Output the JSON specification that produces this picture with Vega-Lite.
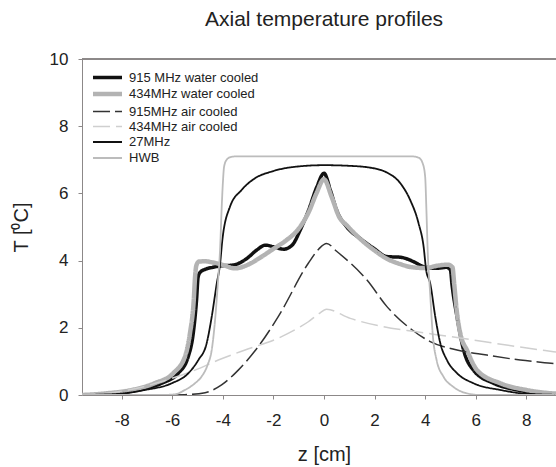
{
  "$schema": "https://vega.github.io/schema/vega-lite/v6.json",
  "autosize": {"type": "none"},
  "padding": {"left": 82, "top": 59, "right": 0, "bottom": 72},
  "width": 484,
  "height": 336,
  "background": "white",
  "config": {
    "view": {"stroke": null},
    "font": "Liberation Sans"
  },
  "title": {
    "text": "Axial temperature profiles",
    "font": "Liberation Sans",
    "fontSize": 21,
    "fontWeight": "normal",
    "color": "#222222",
    "anchor": "middle",
    "offset": 20
  },
  "data": {
    "values": [
      {"s": "915 MHz water cooled", "z": -9.57, "T": 0.0},
      {"s": "915 MHz water cooled", "z": -8.5, "T": 0.03},
      {"s": "915 MHz water cooled", "z": -7.34, "T": 0.15},
      {"s": "915 MHz water cooled", "z": -6.42, "T": 0.35},
      {"s": "915 MHz water cooled", "z": -5.76, "T": 0.65},
      {"s": "915 MHz water cooled", "z": -5.37, "T": 1.14},
      {"s": "915 MHz water cooled", "z": -5.17, "T": 1.84},
      {"s": "915 MHz water cooled", "z": -5.04, "T": 2.83},
      {"s": "915 MHz water cooled", "z": -4.98, "T": 3.5},
      {"s": "915 MHz water cooled", "z": -4.9, "T": 3.65},
      {"s": "915 MHz water cooled", "z": -4.7, "T": 3.74},
      {"s": "915 MHz water cooled", "z": -4.4, "T": 3.8},
      {"s": "915 MHz water cooled", "z": -4.1, "T": 3.84},
      {"s": "915 MHz water cooled", "z": -3.57, "T": 3.87},
      {"s": "915 MHz water cooled", "z": -3.04, "T": 4.07},
      {"s": "915 MHz water cooled", "z": -2.65, "T": 4.32},
      {"s": "915 MHz water cooled", "z": -2.32, "T": 4.46},
      {"s": "915 MHz water cooled", "z": -1.99, "T": 4.41},
      {"s": "915 MHz water cooled", "z": -1.6, "T": 4.34},
      {"s": "915 MHz water cooled", "z": -1.26, "T": 4.46},
      {"s": "915 MHz water cooled", "z": -0.94, "T": 4.91},
      {"s": "915 MHz water cooled", "z": -0.61, "T": 5.5},
      {"s": "915 MHz water cooled", "z": -0.28, "T": 6.2},
      {"s": "915 MHz water cooled", "z": 0.0, "T": 6.6},
      {"s": "915 MHz water cooled", "z": 0.25, "T": 6.1},
      {"s": "915 MHz water cooled", "z": 0.5, "T": 5.5},
      {"s": "915 MHz water cooled", "z": 0.9, "T": 5.0},
      {"s": "915 MHz water cooled", "z": 1.43, "T": 4.66},
      {"s": "915 MHz water cooled", "z": 1.96, "T": 4.37},
      {"s": "915 MHz water cooled", "z": 2.49, "T": 4.12},
      {"s": "915 MHz water cooled", "z": 3.02, "T": 4.1},
      {"s": "915 MHz water cooled", "z": 3.54, "T": 3.97},
      {"s": "915 MHz water cooled", "z": 3.94, "T": 3.82},
      {"s": "915 MHz water cooled", "z": 4.47, "T": 3.77},
      {"s": "915 MHz water cooled", "z": 4.85, "T": 3.8},
      {"s": "915 MHz water cooled", "z": 5.0, "T": 3.72},
      {"s": "915 MHz water cooled", "z": 5.06, "T": 3.3},
      {"s": "915 MHz water cooled", "z": 5.26, "T": 2.33},
      {"s": "915 MHz water cooled", "z": 5.52, "T": 1.34},
      {"s": "915 MHz water cooled", "z": 5.91, "T": 0.74},
      {"s": "915 MHz water cooled", "z": 6.7, "T": 0.35},
      {"s": "915 MHz water cooled", "z": 7.63, "T": 0.15},
      {"s": "915 MHz water cooled", "z": 8.5, "T": 0.05},
      {"s": "915 MHz water cooled", "z": 9.57, "T": 0.01},

      {"s": "434MHz water cooled", "z": -9.57, "T": 0.0},
      {"s": "434MHz water cooled", "z": -8.6, "T": 0.05},
      {"s": "434MHz water cooled", "z": -7.6, "T": 0.15},
      {"s": "434MHz water cooled", "z": -6.7, "T": 0.35},
      {"s": "434MHz water cooled", "z": -5.96, "T": 0.65},
      {"s": "434MHz water cooled", "z": -5.5, "T": 1.14},
      {"s": "434MHz water cooled", "z": -5.3, "T": 1.84},
      {"s": "434MHz water cooled", "z": -5.15, "T": 2.83},
      {"s": "434MHz water cooled", "z": -5.1, "T": 3.5},
      {"s": "434MHz water cooled", "z": -5.05, "T": 3.85},
      {"s": "434MHz water cooled", "z": -4.95, "T": 3.97},
      {"s": "434MHz water cooled", "z": -4.7, "T": 3.98},
      {"s": "434MHz water cooled", "z": -4.44, "T": 3.95},
      {"s": "434MHz water cooled", "z": -4.04, "T": 3.88},
      {"s": "434MHz water cooled", "z": -3.52, "T": 3.77},
      {"s": "434MHz water cooled", "z": -3.0, "T": 3.88},
      {"s": "434MHz water cooled", "z": -2.5, "T": 4.1},
      {"s": "434MHz water cooled", "z": -2.0, "T": 4.35},
      {"s": "434MHz water cooled", "z": -1.5, "T": 4.6},
      {"s": "434MHz water cooled", "z": -1.0, "T": 4.95},
      {"s": "434MHz water cooled", "z": -0.6, "T": 5.45},
      {"s": "434MHz water cooled", "z": -0.3, "T": 6.0},
      {"s": "434MHz water cooled", "z": 0.0, "T": 6.42},
      {"s": "434MHz water cooled", "z": 0.3, "T": 5.9},
      {"s": "434MHz water cooled", "z": 0.6, "T": 5.3},
      {"s": "434MHz water cooled", "z": 0.9, "T": 5.05},
      {"s": "434MHz water cooled", "z": 1.5, "T": 4.6},
      {"s": "434MHz water cooled", "z": 2.0, "T": 4.3},
      {"s": "434MHz water cooled", "z": 2.5, "T": 4.05},
      {"s": "434MHz water cooled", "z": 3.0, "T": 3.9},
      {"s": "434MHz water cooled", "z": 3.5, "T": 3.8},
      {"s": "434MHz water cooled", "z": 4.0, "T": 3.78},
      {"s": "434MHz water cooled", "z": 4.5, "T": 3.85},
      {"s": "434MHz water cooled", "z": 4.9, "T": 3.88},
      {"s": "434MHz water cooled", "z": 5.08, "T": 3.8},
      {"s": "434MHz water cooled", "z": 5.15, "T": 3.3},
      {"s": "434MHz water cooled", "z": 5.25, "T": 2.5},
      {"s": "434MHz water cooled", "z": 5.4, "T": 1.8},
      {"s": "434MHz water cooled", "z": 5.65, "T": 1.34},
      {"s": "434MHz water cooled", "z": 6.05, "T": 0.74},
      {"s": "434MHz water cooled", "z": 6.97, "T": 0.35},
      {"s": "434MHz water cooled", "z": 8.0, "T": 0.15},
      {"s": "434MHz water cooled", "z": 9.0, "T": 0.05},
      {"s": "434MHz water cooled", "z": 9.57, "T": 0.03},

      {"s": "915MHz air cooled", "z": -9.57, "T": 0.0},
      {"s": "915MHz air cooled", "z": -6.5, "T": 0.0},
      {"s": "915MHz air cooled", "z": -5.5, "T": 0.01},
      {"s": "915MHz air cooled", "z": -4.7, "T": 0.07},
      {"s": "915MHz air cooled", "z": -4.05, "T": 0.3},
      {"s": "915MHz air cooled", "z": -3.39, "T": 0.74},
      {"s": "915MHz air cooled", "z": -2.6, "T": 1.44},
      {"s": "915MHz air cooled", "z": -1.81, "T": 2.33},
      {"s": "915MHz air cooled", "z": -0.62, "T": 3.92},
      {"s": "915MHz air cooled", "z": -0.2, "T": 4.35},
      {"s": "915MHz air cooled", "z": 0.1, "T": 4.51},
      {"s": "915MHz air cooled", "z": 0.51, "T": 4.27},
      {"s": "915MHz air cooled", "z": 1.7, "T": 3.42},
      {"s": "915MHz air cooled", "z": 2.49, "T": 2.63},
      {"s": "915MHz air cooled", "z": 3.41, "T": 1.98},
      {"s": "915MHz air cooled", "z": 4.2, "T": 1.59},
      {"s": "915MHz air cooled", "z": 5.26, "T": 1.34},
      {"s": "915MHz air cooled", "z": 6.44, "T": 1.19},
      {"s": "915MHz air cooled", "z": 7.76, "T": 1.04},
      {"s": "915MHz air cooled", "z": 9.08, "T": 0.94},
      {"s": "915MHz air cooled", "z": 9.57, "T": 0.9},

      {"s": "434MHz air cooled", "z": -9.57, "T": 0.0},
      {"s": "434MHz air cooled", "z": -9.0, "T": 0.02},
      {"s": "434MHz air cooled", "z": -7.73, "T": 0.15},
      {"s": "434MHz air cooled", "z": -6.42, "T": 0.4},
      {"s": "434MHz air cooled", "z": -5.1, "T": 0.74},
      {"s": "434MHz air cooled", "z": -4.18, "T": 1.04},
      {"s": "434MHz air cooled", "z": -3.12, "T": 1.34},
      {"s": "434MHz air cooled", "z": -1.81, "T": 1.69},
      {"s": "434MHz air cooled", "z": -0.94, "T": 2.03},
      {"s": "434MHz air cooled", "z": -0.62, "T": 2.18},
      {"s": "434MHz air cooled", "z": -0.2, "T": 2.42},
      {"s": "434MHz air cooled", "z": 0.1, "T": 2.55},
      {"s": "434MHz air cooled", "z": 1.04, "T": 2.28},
      {"s": "434MHz air cooled", "z": 2.36, "T": 2.03},
      {"s": "434MHz air cooled", "z": 3.67, "T": 1.88},
      {"s": "434MHz air cooled", "z": 4.99, "T": 1.74},
      {"s": "434MHz air cooled", "z": 6.3, "T": 1.59},
      {"s": "434MHz air cooled", "z": 7.63, "T": 1.44},
      {"s": "434MHz air cooled", "z": 9.08, "T": 1.29},
      {"s": "434MHz air cooled", "z": 9.57, "T": 1.24},

      {"s": "27MHz", "z": -9.57, "T": 0.0},
      {"s": "27MHz", "z": -8.2, "T": 0.03},
      {"s": "27MHz", "z": -7.08, "T": 0.15},
      {"s": "27MHz", "z": -6.02, "T": 0.35},
      {"s": "27MHz", "z": -5.36, "T": 0.65},
      {"s": "27MHz", "z": -4.97, "T": 1.04},
      {"s": "27MHz", "z": -4.64, "T": 1.54},
      {"s": "27MHz", "z": -4.44, "T": 2.33},
      {"s": "27MHz", "z": -4.24, "T": 3.32},
      {"s": "27MHz", "z": -4.11, "T": 3.9},
      {"s": "27MHz", "z": -4.02, "T": 4.61},
      {"s": "27MHz", "z": -3.72, "T": 5.6},
      {"s": "27MHz", "z": -3.26, "T": 6.1},
      {"s": "27MHz", "z": -2.73, "T": 6.45},
      {"s": "27MHz", "z": -2.07, "T": 6.65},
      {"s": "27MHz", "z": -1.28, "T": 6.78},
      {"s": "27MHz", "z": 0.0, "T": 6.84},
      {"s": "27MHz", "z": 1.0, "T": 6.82},
      {"s": "27MHz", "z": 1.7, "T": 6.78},
      {"s": "27MHz", "z": 2.49, "T": 6.62},
      {"s": "27MHz", "z": 3.02, "T": 6.3},
      {"s": "27MHz", "z": 3.41, "T": 5.8},
      {"s": "27MHz", "z": 3.74, "T": 5.11},
      {"s": "27MHz", "z": 3.94, "T": 4.41},
      {"s": "27MHz", "z": 4.04, "T": 3.72},
      {"s": "27MHz", "z": 4.2, "T": 3.32},
      {"s": "27MHz", "z": 4.4, "T": 2.33},
      {"s": "27MHz", "z": 4.6, "T": 1.54},
      {"s": "27MHz", "z": 4.86, "T": 1.04},
      {"s": "27MHz", "z": 5.26, "T": 0.65},
      {"s": "27MHz", "z": 5.91, "T": 0.35},
      {"s": "27MHz", "z": 6.97, "T": 0.15},
      {"s": "27MHz", "z": 8.1, "T": 0.03},
      {"s": "27MHz", "z": 9.57, "T": 0.0},

      {"s": "HWB", "z": -9.57, "T": 0.0},
      {"s": "HWB", "z": -6.5, "T": 0.0},
      {"s": "HWB", "z": -5.9, "T": 0.02},
      {"s": "HWB", "z": -5.5, "T": 0.15},
      {"s": "HWB", "z": -5.1, "T": 0.35},
      {"s": "HWB", "z": -4.84, "T": 0.55},
      {"s": "HWB", "z": -4.6, "T": 0.9},
      {"s": "HWB", "z": -4.44, "T": 1.34},
      {"s": "HWB", "z": -4.3, "T": 2.3},
      {"s": "HWB", "z": -4.2, "T": 3.3},
      {"s": "HWB", "z": -4.1, "T": 4.5},
      {"s": "HWB", "z": -4.05, "T": 5.5},
      {"s": "HWB", "z": -4.0, "T": 6.3},
      {"s": "HWB", "z": -3.95, "T": 6.8},
      {"s": "HWB", "z": -3.85, "T": 7.0},
      {"s": "HWB", "z": -3.7, "T": 7.08},
      {"s": "HWB", "z": -3.5, "T": 7.1},
      {"s": "HWB", "z": 3.5, "T": 7.1},
      {"s": "HWB", "z": 3.75, "T": 7.06},
      {"s": "HWB", "z": 3.9, "T": 6.9},
      {"s": "HWB", "z": 4.0, "T": 6.5},
      {"s": "HWB", "z": 4.05, "T": 5.5},
      {"s": "HWB", "z": 4.1, "T": 4.3},
      {"s": "HWB", "z": 4.2, "T": 3.0},
      {"s": "HWB", "z": 4.3, "T": 1.8},
      {"s": "HWB", "z": 4.45, "T": 1.05},
      {"s": "HWB", "z": 4.73, "T": 0.54},
      {"s": "HWB", "z": 5.1, "T": 0.25},
      {"s": "HWB", "z": 5.65, "T": 0.05},
      {"s": "HWB", "z": 6.2, "T": 0.0},
      {"s": "HWB", "z": 9.57, "T": 0.0}
    ]
  },
  "layer": [
    {
      "mark": {"type": "rule", "color": "#8c8888", "strokeWidth": 1},
      "encoding": {"y": {"datum": 10}}
    },
    {
      "mark": {"type": "line", "interpolate": "monotone", "clip": true},
      "encoding": {
        "x": {
          "field": "z", "type": "quantitative",
          "scale": {"domain": [-9.57, 9.57], "nice": false, "zero": false},
          "axis": {
            "title": "z [cm]",
            "values": [-8, -6, -4, -2, 0, 2, 4, 6, 8],
            "labelExpr": "replace(datum.label, '−', '-')",
            "grid": false,
            "domainColor": "#8c8888",
            "tickColor": "#8c8888",
            "tickSize": 4,
            "labelFont": "Liberation Sans",
            "labelFontSize": 17,
            "labelColor": "#222222",
            "labelPadding": 13,
            "titleFont": "Liberation Sans",
            "titleFontSize": 20,
            "titleFontWeight": "normal",
            "titleColor": "#222222",
            "titlePadding": 16
          }
        },
        "y": {
          "field": "T", "type": "quantitative",
          "scale": {"domain": [0, 10], "nice": false},
          "axis": {
            "title": "T [⁰C]",
            "values": [0, 2, 4, 6, 8, 10],
            "grid": false,
            "domainColor": "#8c8888",
            "tickColor": "#8c8888",
            "tickSize": 4,
            "labelFont": "Liberation Sans",
            "labelFontSize": 17,
            "labelColor": "#222222",
            "labelPadding": 10,
            "titleFont": "Liberation Sans",
            "titleFontSize": 20,
            "titleFontWeight": "normal",
            "titleColor": "#222222",
            "titlePadding": 18
          }
        },
        "color": {
          "field": "s", "type": "nominal",
          "scale": {
            "domain": ["915 MHz water cooled", "434MHz water cooled", "915MHz air cooled", "434MHz air cooled", "27MHz", "HWB"],
            "range": ["#111111", "#b3b3b3", "#333333", "#cfcfcf", "#111111", "#bcbcbc"]
          },
          "legend": {
            "title": null,
            "orient": "none",
            "legendX": 16,
            "legendY": 9.5,
            "padding": 0,
            "symbolType": "M-2,0H2",
            "symbolSize": 210.25,
            "labelFont": "Liberation Sans",
            "labelFontSize": 13,
            "labelColor": "#222222",
            "labelOffset": 12,
            "rowPadding": 0,
            "symbolOpacity": 1
          }
        },
        "strokeDash": {
          "field": "s", "type": "nominal",
          "scale": {
            "domain": ["915 MHz water cooled", "434MHz water cooled", "915MHz air cooled", "434MHz air cooled", "27MHz", "HWB"],
            "range": [[1, 0], [1, 0], [17, 5], [17, 6], [1, 0], [1, 0]]
          }
        },
        "strokeWidth": {
          "field": "s", "type": "nominal",
          "scale": {
            "type": "ordinal",
            "domain": ["915 MHz water cooled", "434MHz water cooled", "915MHz air cooled", "434MHz air cooled", "27MHz", "HWB"],
            "range": [3.5, 4.5, 1.5, 1.5, 1.8, 1.8]
          }
        }
      }
    }
  ]
}
